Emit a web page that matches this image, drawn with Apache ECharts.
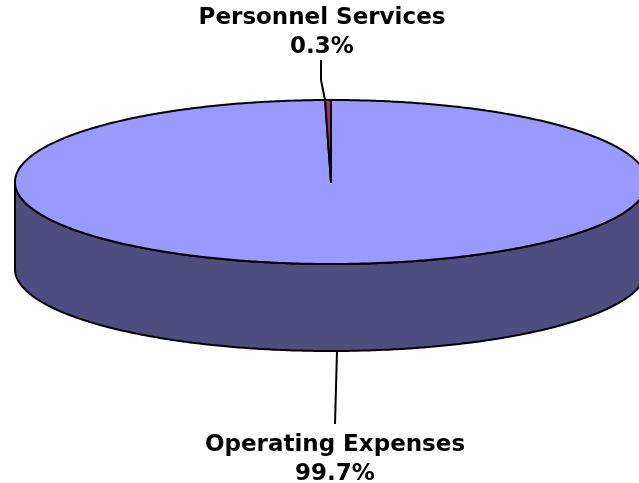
<!DOCTYPE html>
<html>
<head>
<meta charset="utf-8">
<style>
  html, body { margin: 0; padding: 0; background: #fff; overflow: hidden; }
  #chart { width: 639px; height: 483px; }
</style>
</head>
<body>
<div id="chart"></div>
<script src="https://cdn.jsdelivr.net/npm/echarts@6/dist/echarts.min.js"></script>
<script>
const categories = ['Operating Expenses', 'Personnel Services']
const shares = [99.7, 0.3]
const percentLabels = ['99.7%', '0.3%']

const topColors = ['#9999ff', '#993366']
const sideColors = ['#4d4d80', '#4d1a33']

// ellipse of the pie top, and how far the wall drops below it
const cx = 331
const cy = 182
const rx = 316
const ry = 82
const depth = 87

const total = shares.reduce((a, b) => a + b, 0)

// angle is clockwise from 12 o'clock, in degrees
const rimPoint = (deg, dy = 0) => {
  const a = deg * Math.PI / 180
  return [cx + rx * Math.sin(a), cy - ry * Math.cos(a) + dy]
}

const arc = (from, to, dy = 0) => {
  const pts = []
  const steps = Math.max(2, Math.ceil((to - from) * 2))
  for (let i = 0; i <= steps; i++) {
    pts.push(rimPoint(from + (to - from) * i / steps, dy))
  }
  return pts
}

const renderSlice = (params, api) => {
  const i = params.dataIndex
  let before = 0
  for (let k = 0; k < i; k++) before += shares[k]
  const start = before / total * 360
  const end = (before + api.value(0)) / total * 360
  const children = []

  // wall only shows on the front half, 90 to 270 degrees
  const wallFrom = Math.max(start, 90)
  const wallTo = Math.min(end, 270)
  if (wallTo > wallFrom) {
    children.push({
      type: 'polygon',
      shape: { points: arc(wallFrom, wallTo).concat(arc(wallFrom, wallTo, depth).reverse()) },
      style: { fill: sideColors[i], stroke: '#000', lineWidth: 2, lineJoin: 'round' }
    })
  }

  children.push({
    type: 'polygon',
    shape: { points: [[cx, cy]].concat(arc(start, end)) },
    style: { fill: topColors[i], stroke: '#000', lineWidth: 2, lineJoin: 'round' }
  })

  return { type: 'group', children }
}

const labelStyle = {
  fontFamily: 'DejaVu Sans',
  fontWeight: 'bold',
  fontSize: 23,
  fill: '#000',
  textAlign: 'center',
  textVerticalAlign: 'middle'
}

const leader = (points) => ({
  type: 'polyline',
  z: 5,
  shape: { points },
  style: { fill: null, stroke: '#000', lineWidth: 2 }
})

const text = (x, y, t) => ({
  type: 'text',
  z: 5,
  style: Object.assign({}, labelStyle, { x, y, text: t })
})

const chart = echarts.init(document.getElementById('chart'), null, { renderer: 'canvas' })
chart.setOption({
  animation: false,
  backgroundColor: '#fff',
  series: [{
    type: 'custom',
    coordinateSystem: 'none',
    data: shares.map((v, i) => ({ name: categories[i], value: [v] })),
    renderItem: renderSlice
  }],
  graphic: [
    leader([[321, 60], [321, 80], [325, 100]]),
    leader([[337, 351], [335, 424]]),
    text(322, 18, categories[1]),
    text(322, 47, percentLabels[1]),
    text(335, 445, categories[0]),
    text(335, 474, percentLabels[0])
  ]
})
</script>
</body>
</html>
